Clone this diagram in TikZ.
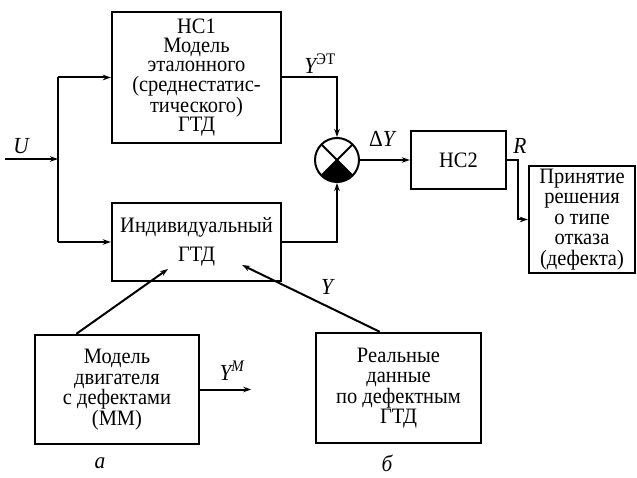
\documentclass[tikz,border=0pt]{standalone}
\usepackage{fontspec}
\setmainfont{Liberation Serif}[FakeStretch=0.93]
\usetikzlibrary{arrows.meta, positioning, calc}
\tikzset{
    block/.style={rectangle, draw=black, line width=2.4pt, align=center,
                  font=\fontsize{22}{20.5}\selectfont, inner sep=0pt},
    arr/.style={line width=2pt, -{Stealth[length=8pt, width=5.5pt]}},
    wire/.style={line width=2pt},
    lbl/.style={font=\fontsize{23}{23}\selectfont\itshape, inner sep=0pt},
}

\begin{document}
\begin{tikzpicture}[x=1pt, y=1pt]
    \useasboundingbox (0,0) rectangle (637,-478);

    % Blocks
    \node[block, minimum width=169pt, minimum height=131pt,
          font=\fontsize{22}{19.4}\selectfont] (nc1) at (196.5,-77.5)
        {НС1\\Модель\\эталонного\\(среднестатис-\\тического)\\ГТД};
    \node[block, minimum width=169pt, minimum height=78pt] (ind) at (196.5,-242)
        {Индивидуальный\\[9pt]ГТД};
    \node[block, minimum width=95pt, minimum height=58pt] (nc2) at (458.5,-160) {НС2};
    \node[block, minimum width=106pt, minimum height=107pt] (dec) at (582,-219.5)
        {Принятие\\решения\\о типе\\отказа\\(дефекта)};
    \node[block, minimum width=164pt, minimum height=109pt] (model) at (117,-389.5)
        {Модель\\двигателя\\с дефектами\\(ММ)};
    \node[block, minimum width=165pt, minimum height=110pt] (real) at (398.5,-388)
        {Реальные\\данные\\по дефектным\\ГТД};

    % Comparator
    \node[circle, draw, line width=2pt, minimum size=44pt, inner sep=0pt,
          path picture={
            \fill (path picture bounding box.center)
                -- (path picture bounding box.south west)
                -- (path picture bounding box.south east) -- cycle;
            \draw[wire] (path picture bounding box.north west)
                -- (path picture bounding box.south east)
                (path picture bounding box.north east)
                -- (path picture bounding box.south west);
          }] (sum) at (337,-160) {};

    % Labels
    \node[lbl] (ulbl) at (21,-146) {U};
    \node[lbl] (yet) at (320,-64) {Y\textsuperscript{\upshape ЭТ}};
    \node[lbl] (dy) at (382,-139) {{\upshape Δ}Y};
    \node[lbl] (rlbl) at (520,-146) {R};
    \node[lbl] (ylbl) at (327,-287) {Y};
    \node[lbl] (ym) at (232,-371) {Y\textsuperscript{M}};
    \node[lbl] (la) at (100,-463) {а};
    \node[lbl] (lb) at (387,-463) {б};

    % Input and branches
    \coordinate (in) at (5,-159);
    \coordinate (split) at (58,-159);
    \draw[arr] (in) -- (split);
    \draw[wire] (split |- nc1.west) -- (split |- ind.west);
    \draw[arr] (split |- nc1.west) -- (nc1.west);
    \draw[arr] (split |- ind.west) -- (ind.west);

    % To comparator and on
    \draw[arr] (nc1.east) -| (sum.north);
    \draw[arr] (ind.east) -| (sum.south);
    \draw[arr] (sum.east) -- (nc2.west);
    \draw[arr] (nc2.east) -- ++(11,0) |- (dec.west);

    % Sources of the individual model
    \coordinate (modout) at ($(model.north west)!0.256!(model.north east)$);
    \coordinate (realout) at ($(real.north west)!0.388!(real.north east)$);
    \coordinate (indin1) at (168,-269);
    \coordinate (indin2) at (242,-265);
    \draw[arr] (modout) -- (indin1);
    \draw[arr] (realout) -- (indin2);
    \draw[arr] (model.east) -- ++(51,0);
\end{tikzpicture}
\end{document}
